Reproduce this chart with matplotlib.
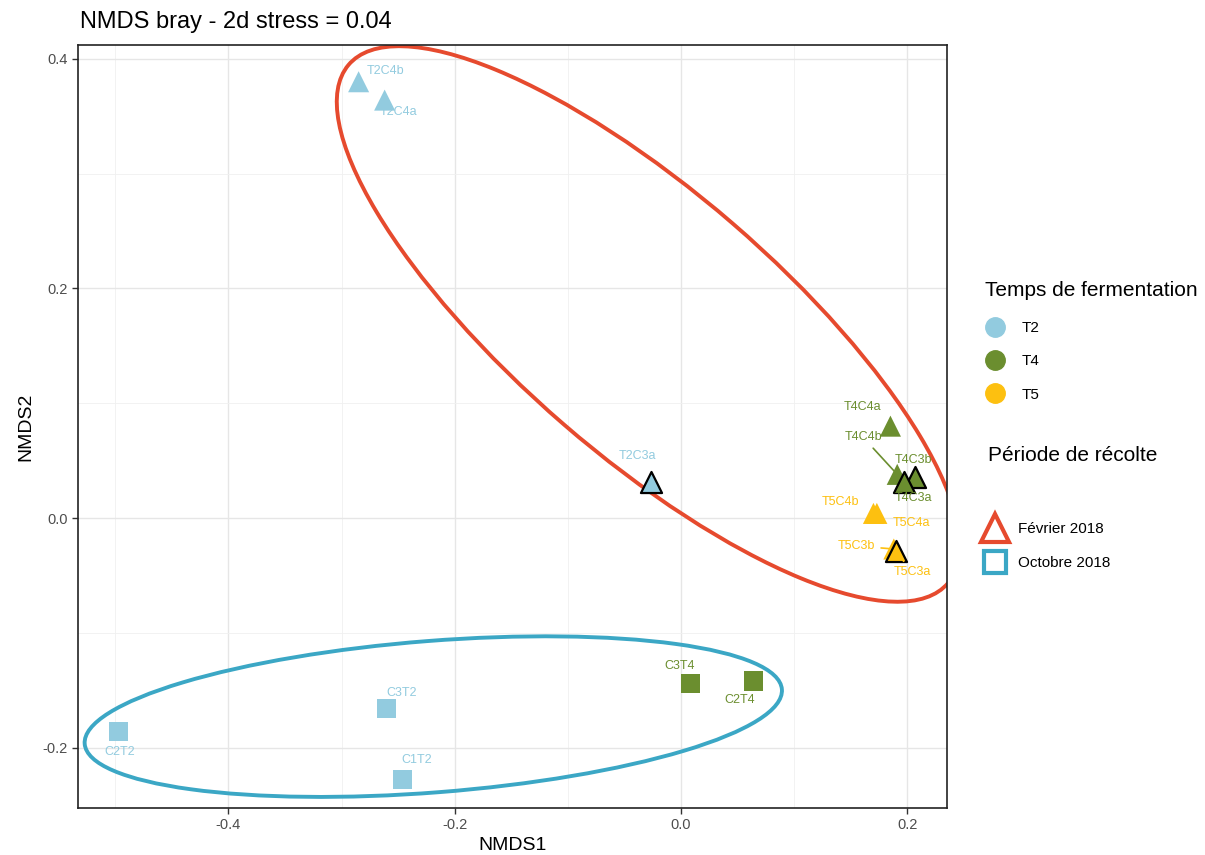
import matplotlib.pyplot as plt
from matplotlib.patches import Ellipse
from matplotlib.lines import Line2D
from matplotlib.ticker import MultipleLocator

plt.rcParams['font.family'] = ['Liberation Sans', 'DejaVu Sans']

# NMDS scores
samples = ["T2C4b", "T2C4a", "T2C3a", "T4C4a", "T4C4b", "T4C3b", "T4C3a",
           "T5C4b", "T5C4a", "T5C3b", "T5C3a",
           "C2T2", "C3T2", "C1T2", "C3T4", "C2T4"]
nmds1 = [-0.285, -0.262, -0.027, 0.185, 0.191, 0.207, 0.197,
         0.170, 0.173, 0.188, 0.190,
         -0.497, -0.260, -0.246, 0.008, 0.064]
nmds2 = [0.380, 0.364, 0.031, 0.080, 0.038, 0.036, 0.031,
         0.004, 0.004, -0.027, -0.029,
         -0.186, -0.166, -0.228, -0.144, -0.142]
temps = ["T2", "T2", "T2", "T4", "T4", "T4", "T4",
         "T5", "T5", "T5", "T5",
         "T2", "T2", "T2", "T4", "T4"]
periode = ["Février 2018"] * 11 + ["Octobre 2018"] * 5
outlined = [False, False, True, False, False, True, True,
            False, False, False, True,
            False, False, False, False, False]

# ellipses (stat_ellipse): centre x, centre y, width, height, angle
ellipse_fev = (-0.029, 0.169, 0.696, 0.230, -40.4)
ellipse_oct = (-0.219, -0.173, 0.618, 0.132, 4.4)

temps_colors = {"T2": "#92CBDF", "T4": "#6B8E2F", "T5": "#FDC010"}
periode_colors = {"Février 2018": "#E64A2E", "Octobre 2018": "#3BA7C5"}
periode_markers = {"Février 2018": "^", "Octobre 2018": "s"}

# label offsets in pixels (ggrepel placement) and leader segments
label_offsets = {
    "T2C4b": (27, 11), "T2C4a": (14, -12), "T2C3a": (-13, 26),
    "T4C4a": (-28, 19), "T4C4b": (-34, 37), "T4C3b": (-2, 17),
    "T4C3a": (9, -16), "T5C4b": (-33, 11), "T5C4a": (35, -10),
    "T5C3b": (-37, 3), "T5C3a": (16, -21),
    "C2T2": (1, -20), "C3T2": (15, 16), "C1T2": (14, 20),
    "C3T4": (-11, 17), "C2T4": (-14, -19),
}
with_segment = {"T4C4b", "T5C3b", "T5C3a"}

fig = plt.figure(figsize=(12.05, 8.55), dpi=100)
ax = fig.add_axes([78 / 1205, 1 - 808 / 855, (947 - 78) / 1205, (808 - 45) / 855])

for params, per in [(ellipse_fev, "Février 2018"), (ellipse_oct, "Octobre 2018")]:
    cx, cy, w, h, ang = params
    ax.add_patch(Ellipse((cx, cy), w, h, angle=ang, fill=False,
                         edgecolor=periode_colors[per], lw=2.8, zorder=2))

# plain points first, outlined ones on top
for layer in (False, True):
    for i in range(len(samples)):
        if outlined[i] != layer:
            continue
        m = periode_markers[periode[i]]
        ax.scatter(nmds1[i], nmds2[i], marker=m,
                   s=230 if m == "^" else 190,
                   color=temps_colors[temps[i]],
                   edgecolors="black" if outlined[i] else "none",
                   linewidths=1.6, zorder=4 if outlined[i] else 3)

for i, name in enumerate(samples):
    c = temps_colors[temps[i]]
    arrow = None
    if name in with_segment:
        arrow = dict(arrowstyle="-", color=c, lw=1.2, shrinkA=2, shrinkB=3)
    ax.annotate(name, (nmds1[i], nmds2[i]), xytext=label_offsets[name],
                textcoords="offset pixels", ha="center", va="center",
                fontsize=9, color=c, arrowprops=arrow, zorder=5)

ax.set_xlim(-0.533, 0.235)
ax.set_ylim(-0.2526, 0.412)
ax.xaxis.set_minor_locator(MultipleLocator(0.1))
ax.yaxis.set_minor_locator(MultipleLocator(0.1))
ax.set_xticks([-0.4, -0.2, 0.0, 0.2])
ax.set_xticklabels(["-0.4", "-0.2", "0.0", "0.2"])
ax.set_yticks([-0.2, 0.0, 0.2, 0.4])
ax.set_yticklabels(["-0.2", "0.0", "0.2", "0.4"])
ax.grid(which="major", color="#E6E6E6", lw=1.0, zorder=0)
ax.grid(which="minor", color="#F0F0F0", lw=0.6, zorder=0)
ax.set_axisbelow(True)
ax.tick_params(which="major", length=4, width=1, color="#333333",
               labelsize=10.5, labelcolor="#4D4D4D")
ax.tick_params(which="minor", length=0)
for sp in ax.spines.values():
    sp.set_color("#222222")
    sp.set_linewidth(1.2)

ax.set_xlabel("NMDS1", fontsize=14, labelpad=3)
ax.set_ylabel("NMDS2", fontsize=14, labelpad=6)
fig.text(80 / 1205, 1 - 22 / 855, "NMDS bray - 2d stress = 0.04",
         fontsize=17, va="center", ha="left")

# legends
fig.text(985 / 1205, 1 - 290 / 855, "Temps de fermentation", fontsize=15,
         va="center", ha="left")
h1 = [Line2D([], [], marker="o", ls="", markersize=14, color=temps_colors[t])
      for t in ["T2", "T4", "T5"]]
fig.legend(h1, ["T2", "T4", "T5"], loc="upper left",
           bbox_to_anchor=(987 / 1205, 1 - 321 / 855), frameon=False,
           borderpad=0, borderaxespad=0, handlelength=1.0, handletextpad=1.26,
           labelspacing=1.26, fontsize=11)

fig.text(988 / 1205, 1 - 455 / 855, "Période de récolte", fontsize=15,
         va="center", ha="left")
h2 = [Line2D([], [], marker=periode_markers[p], ls="",
             markersize=20 if p.startswith("F") else 16,
             markerfacecolor="white", markeredgecolor=periode_colors[p],
             markeredgewidth=3.0) for p in ["Février 2018", "Octobre 2018"]]
fig.legend(h2, ["Février 2018", "Octobre 2018"], loc="upper left",
           bbox_to_anchor=(987 / 1205, 1 - 522 / 855), frameon=False,
           borderpad=0, borderaxespad=0, handlelength=1.0, handletextpad=1.0,
           labelspacing=1.3, fontsize=11)

fig.savefig("out.png", dpi=100)
